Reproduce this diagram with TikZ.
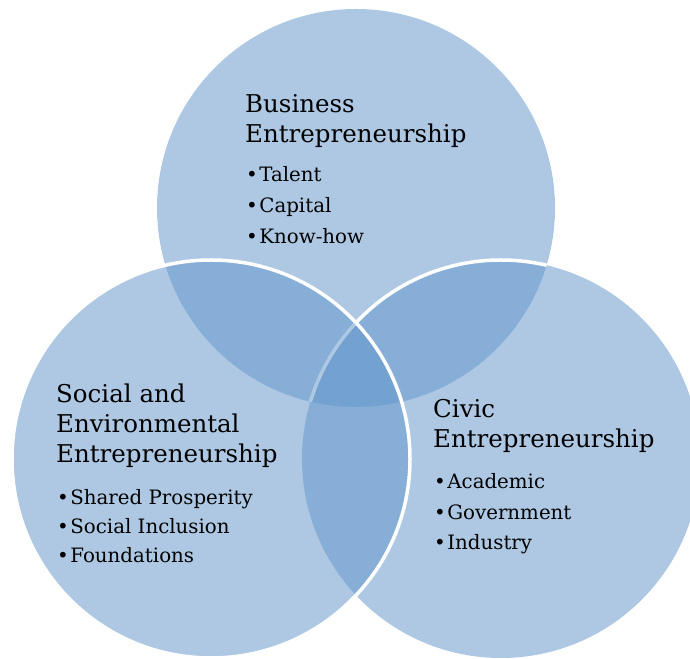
\documentclass[tikz,border=0pt]{standalone}
\usepackage{fontspec}
\setmainfont{DejaVu Serif}
\definecolor{vennblue}{RGB}{99,150,202}
\tikzset{
  venn/.style={fill=vennblue, fill opacity=0.52},
  rim/.style={draw=white, line width=3.5pt},
  head/.style={anchor=base west, inner sep=0pt, align=left,
    font=\fontsize{24.5}{30}\selectfont},
  items/.style={anchor=base west, inner sep=0pt, align=left,
    font=\fontsize{19.8}{30.5}\selectfont}
}
\newcommand{\itm}[1]{\textbullet\hspace{1.5pt}#1}
\begin{document}
\begin{tikzpicture}[x=1pt,y=1pt]
\useasboundingbox (0,0) rectangle (690,658);
\coordinate (business) at (356,450);
\coordinate (social) at (211,199);
\coordinate (civic) at (501,199);
% discs, top one first
\fill[venn] (business) circle (199);
\fill[venn] (civic) circle (199);
\begin{scope}
\clip (business) circle (199);
\draw[rim] (civic) circle (199);
\end{scope}
\fill[venn] (social) circle (199);
\draw[rim] (social) circle (199);
% labels (anchored on their last line)
\node[head] (busT) at (245,515) {Business\\Entrepreneurship};
\node[items, font=\fontsize{19.8}{31}\selectfont] (busL) at (246,414)
  {\itm{Talent}\\\itm{Capital}\\\itm{Know-how}};
\node[head] (socT) at (56,195) {Social and\\Environmental\\Entrepreneurship};
\node[items, font=\fontsize{19.8}{29}\selectfont] (socL) at (57,95)
  {\itm{Shared Prosperity}\\\itm{Social Inclusion}\\\itm{Foundations}};
\node[head] (civT) at (433,210) {Civic\\Entrepreneurship};
\node[items] (civL) at (434,108)
  {\itm{Academic}\\\itm{Government}\\\itm{Industry}};
\end{tikzpicture}
\end{document}
